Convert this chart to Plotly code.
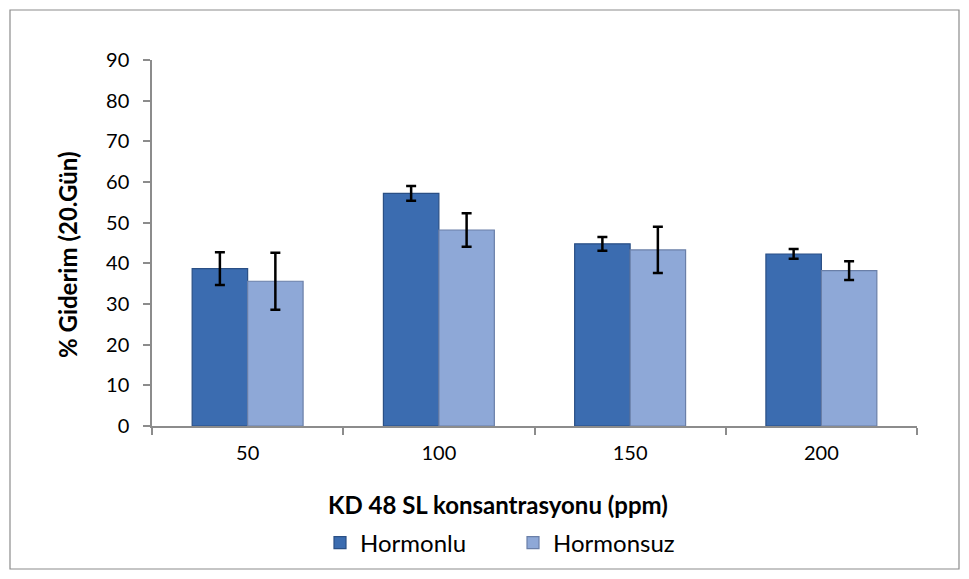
import plotly.graph_objects as go

categories = ["50", "100", "150", "200"]
hormonlu = [38.7, 57.2, 44.8, 42.3]
hormonlu_err = [4.0, 1.8, 1.7, 1.2]
hormonsuz = [35.6, 48.2, 43.3, 38.2]
hormonsuz_err = [7.0, 4.1, 5.7, 2.3]
y_ticks = [0, 10, 20, 30, 40, 50, 60, 70, 80, 90]

FONT = "Lato"

fig = go.Figure()
fig.add_trace(go.Bar(
    name="Hormonlu", x=categories, y=hormonlu,
    marker=dict(color="#3b6cb0", line=dict(color="#2a4f85", width=1.2)),
    error_y=dict(type="data", array=hormonlu_err, color="black", thickness=2.5, width=5),
))
fig.add_trace(go.Bar(
    name="Hormonsuz", x=categories, y=hormonsuz,
    marker=dict(color="#8ea8d7", line=dict(color="#6a7fa8", width=1.2)),
    error_y=dict(type="data", array=hormonsuz_err, color="black", thickness=2.5, width=5),
))

L, R, T, B = 152, 52, 60, 153
W, H = 969, 579
pw, ph = W - L - R, H - T - B
ybase = H - B

fig.update_layout(
    width=W, height=H,
    margin=dict(l=L, r=R, t=T, b=B),
    paper_bgcolor="white", plot_bgcolor="white",
    barmode="group", bargap=0.42, bargroupgap=0,
    font=dict(family=FONT, size=20, color="black"),
    showlegend=True,
    legend=dict(orientation="h", x=(344 - 24 - L) / pw, xanchor="left",
                y=(ybase - 543) / ph, yanchor="middle",
                font=dict(family=FONT, size=24), entrywidth=148),
    xaxis=dict(
        showline=True, linecolor="#8c8c8c", linewidth=1.5,
        ticks="outside", tickson="boundaries", ticklen=7, tickcolor="#8c8c8c", tickwidth=1.5,
        tickfont=dict(family=FONT, size=20), showgrid=False, ticklabelstandoff=8,
    ),
    yaxis=dict(
        range=[0, 90], tickvals=y_ticks, ticktext=[str(v) for v in y_ticks],
        showline=True, linecolor="#8c8c8c", linewidth=1.5,
        ticks="outside", ticklen=7, tickcolor="#8c8c8c", tickwidth=1.5,
        tickfont=dict(family=FONT, size=20), showgrid=False, zeroline=False,
        ticklabelstandoff=10,
    ),
    annotations=[
        dict(text="<b>KD 48 SL konsantrasyonu (ppm)</b>", xref="paper", yref="paper",
             x=(498 - L) / pw, y=(ybase - 504) / ph, xanchor="center", yanchor="middle",
             showarrow=False, font=dict(family=FONT, size=24)),
        dict(text="<b>% Giderim (20.Gün)</b>", xref="paper", yref="paper",
             x=(67 - L) / pw, y=(ybase - 255) / ph, xanchor="center", yanchor="middle",
             textangle=-90, showarrow=False, font=dict(family=FONT, size=24)),
    ],
    shapes=[dict(
        type="rect", xref="paper", yref="paper",
        x0=(10 - L) / pw, x1=(959 - L) / pw,
        y0=(ybase - 569) / ph, y1=1 + (T - 10) / ph,
        line=dict(color="#8c8c8c", width=1.2), fillcolor="rgba(0,0,0,0)", layer="below",
    )],
)

fig.write_html("out.html", config={"displayModeBar": False},
               post_script="document.body.style.margin='0';")
